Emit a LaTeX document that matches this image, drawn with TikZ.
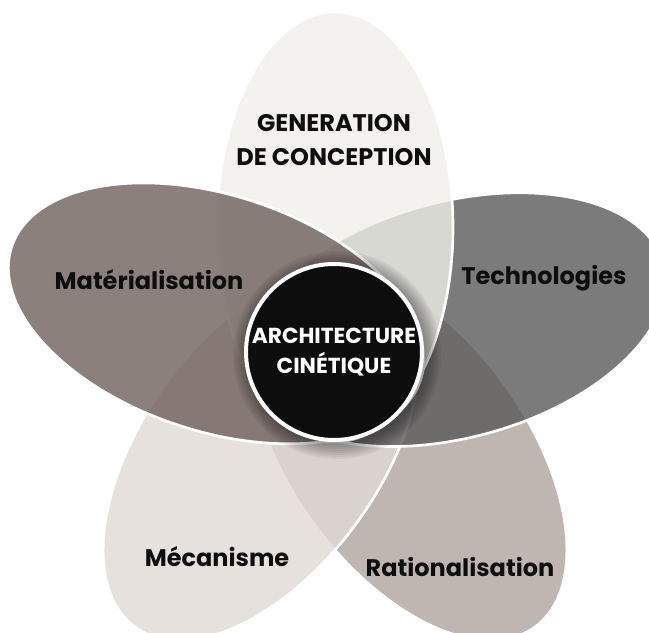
\documentclass[tikz,border=0pt]{standalone}
\usepackage{fontspec}
\setmainfont{Poppins}
\usepackage{xcolor}
\definecolor{ink}{HTML}{0D0D0D}
\definecolor{conception}{HTML}{F0EFEA}
\definecolor{techno}{HTML}{5A5A5A}
\definecolor{ratio}{HTML}{B0A49D}
\definecolor{meca}{HTML}{E1D9D6}
\definecolor{materia}{HTML}{6E605B}
\usepackage{tikz}
\tikzset{
  every picture/.style={x=0.75pt, y=0.75pt},
  petal/.style={draw=white, line width=2pt, fill=#1, fill opacity=0.8},
  caption/.style={font=\fontsize{18}{25.5}\selectfont\bfseries, text=ink, align=center, inner sep=0pt},
}

\begin{document}
\begin{tikzpicture}[
    hub/.style={circle, draw=white, line width=3pt, fill=ink, text=white, minimum size=132pt,
      inner sep=0pt, align=center, font=\fontsize{16.3}{22}\selectfont\bfseries}]
  \useasboundingbox (-335,-280) rectangle (314,352);
  % petals, back to front
  \draw[petal=ratio, rotate=-54] (125,0) ellipse [x radius=215, y radius=118];
  \draw[petal=meca, rotate=-126] (125,0) ellipse [x radius=215, y radius=118];
  \draw[petal=techno, rotate=15] (125,0) ellipse [x radius=215, y radius=118];
  \draw[petal=conception, rotate=90] (125,0) ellipse [x radius=215, y radius=118];
  \draw[petal=materia, rotate=162] (125,0) ellipse [x radius=215, y radius=118];
  % soft shadow under the hub
  \foreach \r in {2,4,...,16}
    \fill[black, opacity=0.05] (2,-3) circle (88+\r);
  \node[hub] (hub) at (-1,0) {ARCHITECTURE\\CIN\'ETIQUE};
  \node[caption] (gen) at (-1,212) {GENERATION\\DE CONCEPTION};
  \node[caption] (mat) at (-186,72) {Mat\'erialisation};
  \node[caption] (tech) at (209,74) {Technologies};
  \node[caption] (mec) at (-118,-205) {M\'ecanisme};
  \node[caption] (rat) at (125,-215) {Rationalisation};
\end{tikzpicture}
\end{document}
